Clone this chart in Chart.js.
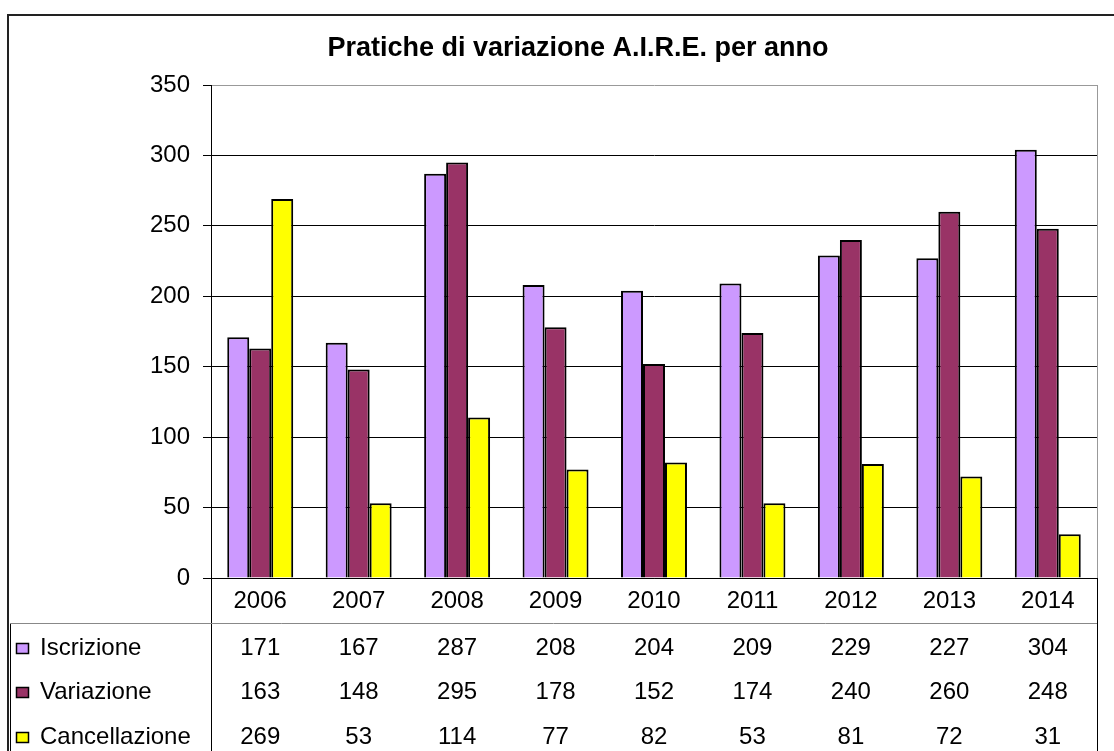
<!DOCTYPE html>
<html>
<head>
<meta charset="utf-8">
<title>Pratiche di variazione A.I.R.E. per anno</title>
<script src="https://cdn.jsdelivr.net/npm/chart.js@4/dist/chart.umd.min.js"></script>
<style>
    html, body { margin: 0; padding: 0; background: #fff; overflow: hidden; }
    #grafico-aire { display: block; }
</style>
</head>
<body>
<canvas id="grafico-aire" width="1114" height="751"></canvas>
<script>
/* DATI */
const anni = ["2006", "2007", "2008", "2009", "2010", "2011", "2012", "2013", "2014"];
const iscrizione = [171, 167, 287, 208, 204, 209, 229, 227, 304];
const variazione = [163, 148, 295, 178, 152, 174, 240, 260, 248];
const cancellazione = [269, 53, 114, 77, 82, 53, 81, 72, 31];
const serieNomi = ["Iscrizione", "Variazione", "Cancellazione"];
const titolo = "Pratiche di variazione A.I.R.E. per anno";
/* FINE DATI */

const colori = ["#CC99FF", "#993366", "#FFFF00"];
const serieValori = [iscrizione, variazione, cancellazione];
const FONT = "Arial, 'Liberation Sans', sans-serif";

/* PLUGIN: titolo, bordi e tabella dati */
const tabellaDati = {
    id: 'tabellaDati',
    afterDraw(chart) {
        const ctx = chart.ctx;
        const area = chart.chartArea;
        const x = chart.scales.x;
        ctx.save();

        // bordo esterno
        ctx.strokeStyle = "#222";
        ctx.lineWidth = 2;
        ctx.beginPath();
        ctx.moveTo(1200, 15);
        ctx.lineTo(8, 15);
        ctx.lineTo(8, 800);
        ctx.stroke();

        // titolo
        ctx.fillStyle = "#000";
        ctx.font = "bold 27px " + FONT;
        ctx.textAlign = "center";
        ctx.textBaseline = "middle";
        ctx.fillText(titolo, 578, 49);

        ctx.lineWidth = 1;
        // bordo destro area del grafico
        ctx.strokeStyle = "#999";
        ctx.beginPath();
        ctx.moveTo(area.right + 0.5, area.top);
        ctx.lineTo(area.right + 0.5, area.bottom);
        ctx.stroke();

        // linee della tabella
        ctx.strokeStyle = "#000";
        ctx.beginPath();
        ctx.moveTo(area.left + 0.5, area.bottom);
        ctx.lineTo(area.left + 0.5, 751);
        ctx.moveTo(area.right + 0.5, area.bottom);
        ctx.lineTo(area.right + 0.5, 751);
        ctx.moveTo(10.5, 623);
        ctx.lineTo(10.5, 751);
        ctx.stroke();
        ctx.strokeStyle = "#888";
        ctx.beginPath();
        ctx.moveTo(10, 623.5);
        ctx.lineTo(area.right, 623.5);
        ctx.stroke();

        // righe: legenda + valori
        const righeY = [648, 692, 737];
        ctx.font = "24px " + FONT;
        ctx.textBaseline = "middle";
        serieNomi.forEach((nome, r) => {
            const y = righeY[r];
            ctx.fillStyle = colori[r];
            ctx.fillRect(16, y - 5, 13, 11);
            ctx.strokeStyle = "#000";
            ctx.lineWidth = 1.5;
            ctx.strokeRect(16.5, y - 4.5, 12, 10);
            ctx.fillStyle = "#000";
            ctx.textAlign = "left";
            ctx.fillText(nome, 40, y);
            ctx.textAlign = "center";
            serieValori[r].forEach((v, i) => {
                ctx.fillText(String(v), x.getPixelForTick(i), y);
            });
        });
        ctx.restore();
    }
};

new Chart(document.getElementById("grafico-aire"), {
    type: 'bar',
    data: {
        labels: anni,
        datasets: serieNomi.map((nome, i) => ({
            label: nome,
            data: serieValori[i],
            backgroundColor: colori[i],
            borderColor: "#000",
            borderWidth: 2,
            categoryPercentage: 0.67,
            barPercentage: 1
        }))
    },
    options: {
        responsive: false,
        animation: false,
        devicePixelRatio: 1,
        layout: { padding: { top: 85, right: 17, bottom: 0, left: 0 } },
        plugins: {
            legend: { display: false },
            title: { display: false },
            tooltip: { enabled: false }
        },
        scales: {
            x: {
                grid: { display: false, drawTicks: false },
                border: { display: true, color: "#000", width: 1 },
                ticks: { color: "#000", font: { family: FONT, size: 24 }, padding: 9, maxRotation: 0 },
                afterFit: s => { s.height = 173; }
            },
            y: {
                min: 0,
                max: 350,
                ticks: { stepSize: 50, color: "#000", font: { family: FONT, size: 24 }, padding: 13 },
                grid: {
                    color: c => c.tick && c.tick.value === 350 ? "#999" : "#000",
                    tickLength: 8,
                    tickColor: "#000"
                },
                border: { display: true, color: "#000", width: 1 },
                afterFit: s => { s.width = 211; }
            }
        }
    },
    plugins: [tabellaDati]
});
</script>
</body>
</html>
